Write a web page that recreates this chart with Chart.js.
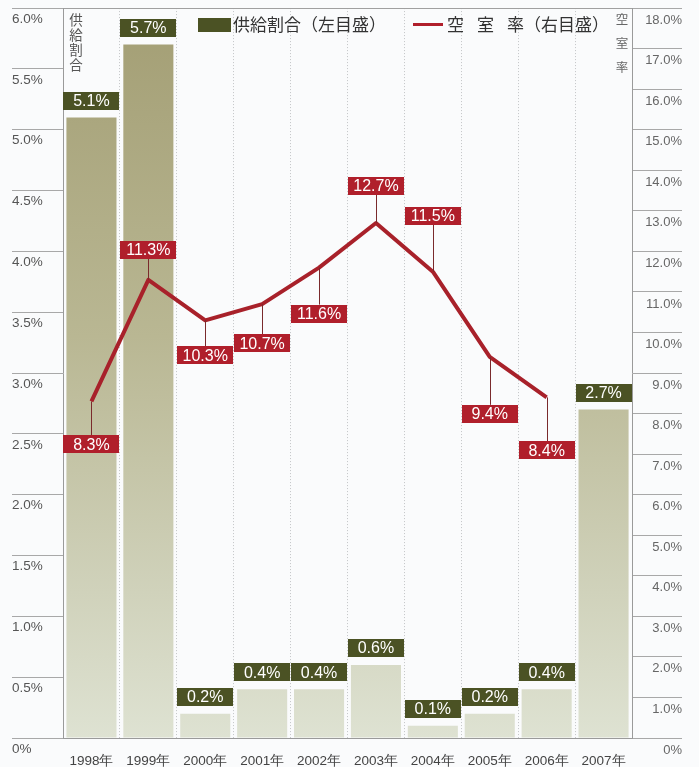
<!DOCTYPE html>
<html>
<head>
<meta charset="utf-8">
<script src="https://cdn.jsdelivr.net/npm/chart.js@4.4.1/dist/chart.umd.min.js"></script>
<style>
  html, body { margin: 0; padding: 0; background: #fafbfc; }
  #wrap { width: 699px; height: 767px; }
</style>
</head>
<body>
<div id="wrap"><canvas id="chart" width="699" height="767"></canvas></div>
<script>
// Categories and series
const years = ['1998年', '1999年', '2000年', '2001年', '2002年', '2003年', '2004年', '2005年', '2006年', '2007年'];
const supplyShare = [5.1, 5.7, 0.2, 0.4, 0.4, 0.6, 0.1, 0.2, 0.4, 2.7];        // 供給割合 (%), left scale
const vacancyRate = [8.3, 11.3, 10.3, 10.7, 11.6, 12.7, 11.5, 9.4, 8.4, null];  // 空室率 (%), right scale

// Axis tick values
const leftTicks = [0, 0.5, 1.0, 1.5, 2.0, 2.5, 3.0, 3.5, 4.0, 4.5, 5.0, 5.5, 6.0];
const rightTicks = [0, 1, 2, 3, 4, 5, 6, 7, 8, 9, 10, 11, 12, 13, 14, 15, 16, 17, 18];

// Vertical placement of the vacancy-rate tags relative to their points (px, + is below)
const rateTagShift = [43, -30, 35, 39, 46, -37, -56, 57, 53, 0];

const OLIVE = '#4b5224';
const RED_BOX = '#b01f2b';
const RED_LINE = '#a8212a';
const NUM_FONT = '"Liberation Sans", Arial, sans-serif';
const JP_FONT = '"Noto Sans CJK JP", "Noto Sans CJK SC", sans-serif';

function pct(v) { return v === 0 ? '0%' : v.toFixed(1) + '%'; }

function barGradient(ctx) {
  const area = ctx.chart.chartArea;
  if (!area) return '#bcba98';
  const g = ctx.chart.ctx.createLinearGradient(0, area.top, 0, area.bottom);
  g.addColorStop(0, '#a39e74');
  g.addColorStop(0.45, '#b9b793');
  g.addColorStop(0.8, '#d0d2bb');
  g.addColorStop(1, '#dee2d2');
  return g;
}

function tag(ctx, cx, cy, w, h, fill, text) {
  ctx.fillStyle = fill;
  ctx.fillRect(Math.round(cx - w / 2), Math.round(cy - h / 2), w, h);
  ctx.fillStyle = '#ffffff';
  ctx.font = '16px ' + NUM_FONT;
  ctx.textAlign = 'center';
  ctx.textBaseline = 'middle';
  ctx.fillText(text, cx, cy + 1);
}

// Value tags on bars and line points
const tagPlugin = {
  id: 'valueTags',
  afterDatasetsDraw(chart) {
    const ctx = chart.ctx;
    const xs = chart.scales.x;
    const step = xs.getPixelForValue(1) - xs.getPixelForValue(0);
    const w = Math.round(step) - 1;
    const h = 18;
    ctx.save();
    // bar tags
    const barMeta = chart.getDatasetMeta(1);
    barMeta.data.forEach((bar, i) => {
      const cy = bar.y - 8 - h / 2;
      tag(ctx, bar.x, cy, w, h, OLIVE, supplyShare[i].toFixed(1) + '%');
    });
    // line tags with leaders
    const lineMeta = chart.getDatasetMeta(0);
    lineMeta.data.forEach((pt, i) => {
      const v = vacancyRate[i];
      if (v === null || v === undefined) return;
      const shift = rateTagShift[i];
      const cy = pt.y + shift;
      const edge = shift > 0 ? cy - h / 2 : cy + h / 2;
      ctx.strokeStyle = '#7a2a2c';
      ctx.lineWidth = 1;
      ctx.beginPath();
      ctx.moveTo(Math.round(pt.x) + 0.5, pt.y);
      ctx.lineTo(Math.round(pt.x) + 0.5, edge);
      ctx.stroke();
      tag(ctx, pt.x, cy, w, h, RED_BOX, v.toFixed(1) + '%');
    });
    ctx.restore();
  }
};

// Legend and vertical scale captions
const captionPlugin = {
  id: 'captions',
  afterDraw(chart) {
    const ctx = chart.ctx;
    ctx.save();
    // legend: supply share
    ctx.fillStyle = OLIVE;
    ctx.fillRect(198, 18, 33, 14);
    ctx.fillStyle = '#333333';
    ctx.font = '17px ' + JP_FONT;
    ctx.textAlign = 'left';
    ctx.textBaseline = 'middle';
    ctx.fillText('供給割合（左目盛）', 233, 25);
    // legend: vacancy rate
    ctx.strokeStyle = RED_BOX;
    ctx.lineWidth = 3;
    ctx.beginPath();
    ctx.moveTo(413, 24.5);
    ctx.lineTo(443, 24.5);
    ctx.stroke();
    ctx.fillText('空', 447, 25);
    ctx.fillText('室', 477, 25);
    ctx.fillText('率（右目盛）', 507, 25);
    // vertical captions
    ctx.fillStyle = '#555555';
    ctx.textAlign = 'center';
    ctx.font = '13.5px ' + JP_FONT;
    ['供', '給', '割', '合'].forEach((c, i) => ctx.fillText(c, 76, 20 + i * 15));
    ctx.fillStyle = '#666666';
    ctx.font = '12.5px ' + JP_FONT;
    ['空', '室', '率'].forEach((c, i) => ctx.fillText(c, 622, 19 + i * 24));
    ctx.restore();
  }
};

new Chart(document.getElementById('chart'), {
  data: {
    labels: years,
    datasets: [
      {
        type: 'line',
        label: '空室率',
        data: vacancyRate,
        yAxisID: 'yR',
        borderColor: RED_LINE,
        borderWidth: 4,
        pointRadius: 0,
        tension: 0,
        borderJoinStyle: 'round',
        spanGaps: false,
        order: 0
      },
      {
        type: 'bar',
        label: '供給割合',
        data: supplyShare,
        yAxisID: 'yL',
        backgroundColor: barGradient,
        borderWidth: 0,
        barPercentage: 0.88,
        categoryPercentage: 1,
        order: 1
      }
    ]
  },
  plugins: [tagPlugin, captionPlugin],
  options: {
    responsive: false,
    devicePixelRatio: 1,
    animation: false,
    layout: { padding: { left: 12, right: 17, top: 8, bottom: 0 } },
    plugins: { legend: { display: false }, tooltip: { enabled: false } },
    scales: {
      x: {
        offset: true,
        grid: { offset: true, drawTicks: false, color: '#c2c4c6', lineWidth: 1 },
        border: { display: true, color: '#9a9a9a', dash: [1, 2] },
        ticks: { color: '#444444', font: { family: NUM_FONT, size: 13.5 }, padding: 15, maxRotation: 0, autoSkip: false },
        afterFit(s) { s.height = 29; }
      },
      yL: {
        position: 'left',
        min: 0,
        max: 6,
        afterBuildTicks(s) { s.ticks = leftTicks.map(v => ({ value: v })); },
        grid: {
          drawOnChartArea: true,
          color: c => (c.tick && c.tick.value === 6 ? '#a0a0a0' : 'rgba(0,0,0,0)'),
          tickColor: '#a8a8a8',
          tickLength: 51
        },
        border: { color: '#9a9a9a' },
        ticks: {
          callback: v => pct(v),
          crossAlign: 'far',
          labelOffset: 11,
          padding: 0,
          autoSkip: false,
          color: '#555555',
          font: { family: NUM_FONT, size: 13.5 }
        },
        afterFit(s) { s.width = 51; }
      },
      yR: {
        position: 'right',
        min: 0,
        max: 18,
        afterBuildTicks(s) { s.ticks = rightTicks.map(v => ({ value: v })); },
        grid: { drawOnChartArea: false, tickColor: '#a8a8a8', tickLength: 50 },
        border: { color: '#9a9a9a' },
        ticks: {
          callback: v => pct(v),
          crossAlign: 'far',
          labelOffset: 12,
          padding: 0,
          autoSkip: false,
          color: '#666666',
          font: { family: NUM_FONT, size: 13 }
        },
        afterFit(s) { s.width = 50; }
      }
    }
  }
});
</script>
</body>
</html>
